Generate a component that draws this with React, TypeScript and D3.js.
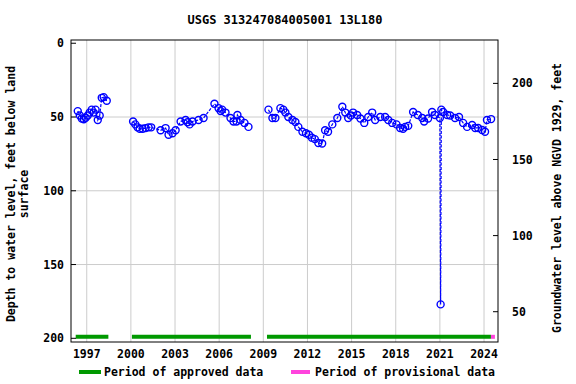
import React from "react";
import * as d3 from "d3";

// measurement dates (decimal years) and depth to water, feet below land surface
const dates = [
  1996.39, 1996.53, 1996.66, 1996.8, 1996.93, 1997.07, 1997.2, 1997.34, 1997.47, 1997.6, 1997.75, 1997.88, 1998.02, 1998.15, 1998.36,
  2000.15, 2000.3, 2000.45, 2000.6, 2000.8, 2001.0, 2001.2, 2001.38, 2002.02, 2002.36, 2002.56, 2002.83, 2003.04, 2003.38, 2003.72,
  2003.85, 2003.99, 2004.19, 2004.6, 2004.94, 2005.68, 2005.96, 2006.1, 2006.2, 2006.43, 2006.77, 2006.97, 2007.18, 2007.24, 2007.45,
  2007.72, 2007.99,
  2009.35, 2009.62, 2009.82, 2010.16, 2010.36, 2010.5, 2010.7, 2010.98, 2011.18, 2011.38, 2011.66, 2011.9, 2012.1, 2012.3, 2012.5,
  2012.74, 2013.0, 2013.2, 2013.4, 2013.69, 2014.03, 2014.37, 2014.57, 2014.77, 2014.95, 2015.1, 2015.38, 2015.6, 2015.86, 2016.13,
  2016.4, 2016.6, 2016.95, 2017.28, 2017.49, 2017.76, 2018.05, 2018.3, 2018.5, 2018.64, 2018.85, 2019.18, 2019.5, 2019.8, 2019.93,
  2020.2, 2020.47, 2020.67, 2021.0, 2021.05, 2021.1, 2021.22, 2021.5, 2021.7, 2022.03, 2022.3, 2022.58, 2022.85, 2023.19, 2023.4,
  2023.6, 2023.87, 2024.07, 2024.2, 2024.48,
];
const depths = [
  46, 49, 51, 51.5, 50.5, 49, 47, 45, 47, 45, 52, 49, 37, 36.5, 39,
  53, 55, 57, 58, 58, 57.5, 57, 57, 59, 57.5, 62, 61, 59, 53, 52,
  53.5, 55, 53, 52, 50.7, 41, 44, 46, 45, 47, 50.7, 53, 53, 48.6, 52,
  54, 56.7,
  45, 50.7, 50.7, 44, 45, 47, 50, 52, 53.4, 56.7, 60, 61, 62, 64, 65,
  67.6, 68, 59, 60, 55, 50.7, 43, 47, 50.7, 49, 47, 48.6, 51, 54, 50,
  47, 52, 50, 50, 52, 54, 55, 57.4, 58, 56.7, 56, 46.6, 48.6, 50.7, 53,
  51, 46.6, 48.6, 50.7, 177, 45, 46.6, 48.6, 49, 50.7, 50, 54, 56.7, 55.4, 57.4,
  57.4, 58.8, 60, 52, 51.4,
];

const approvedStart = [1996.25, 2000.07, 2009.25];
const approvedEnd = [1998.47, 2008.16, 2024.47];
const provisionalStart = [2024.47];
const provisionalEnd = [2024.74];

const yearTicks = [1997, 2000, 2003, 2006, 2009, 2012, 2015, 2018, 2021, 2024];
const depthTicks = [0, 50, 100, 150, 200];
const elevTicks = [50, 100, 150, 200];

const FONT = "'DejaVu Sans Mono', 'Liberation Mono', monospace";

export default function App() {
  const width = 576;
  const height = 384;
  const plot = { left: 71, right: 498, top: 40, bottom: 342 };

  const x = d3.scaleLinear().domain([1995.93, 2024.95]).range([plot.left, plot.right]);
  const y = d3.scaleLinear().domain([-2.2, 202.5]).range([plot.top, plot.bottom]);
  const yRight = d3.scaleLinear().domain([228.5, 30.1]).range([plot.top, plot.bottom]);

  const points = dates.map((d, i) => ({ date: d, depth: depths[i] }));

  // split into connected runs where gaps are under a year
  const runs: { date: number; depth: number }[][] = [];
  points.forEach((p, i) => {
    if (i === 0 || p.date - points[i - 1].date > 1) runs.push([]);
    runs[runs.length - 1].push(p);
  });

  const line = d3
    .line<{ date: number; depth: number }>()
    .x((d) => x(d.date))
    .y((d) => y(d.depth));

  const barY = y(200) - 1.5;

  return (
    <svg
      width={width}
      height={height}
      style={{ position: "fixed", top: 0, left: 0, background: "#fff" }}
      fontFamily={FONT}
      fontWeight="bold"
      fontSize={11.5}
    >
      <rect x={0} y={0} width={width} height={height} fill="#fff" />
      <text x={285} y={24} textAnchor="middle" fontSize={12}>
        USGS 313247084005001 13L180
      </text>

      {/* grid */}
      {yearTicks.map((t) => (
        <line key={"gx" + t} x1={x(t)} x2={x(t)} y1={plot.top} y2={plot.bottom} stroke="#cccccc" strokeWidth={1} />
      ))}
      {[50, 100, 150].map((t) => (
        <line key={"gy" + t} x1={plot.left} x2={plot.right} y1={y(t)} y2={y(t)} stroke="#cccccc" strokeWidth={1} />
      ))}

      {/* periods */}
      {approvedStart.map((s, i) => (
        <line key={"ap" + i} x1={x(s)} x2={x(approvedEnd[i])} y1={barY} y2={barY} stroke="#009900" strokeWidth={4} />
      ))}
      {provisionalStart.map((s, i) => (
        <line key={"pr" + i} x1={x(s)} x2={x(provisionalEnd[i])} y1={barY} y2={barY} stroke="#ff44dd" strokeWidth={4} />
      ))}

      {/* data */}
      {runs.map((r, i) => (
        <path key={"run" + i} d={line(r) || ""} fill="none" stroke="#0000ff" strokeWidth={1.2} strokeDasharray="3,1.5" />
      ))}
      {points.map((p, i) => (
        <circle key={"pt" + i} cx={x(p.date)} cy={y(p.depth)} r={3.5} fill="none" stroke="#0000ff" strokeWidth={1.4} />
      ))}

      {/* frame */}
      <rect
        x={plot.left}
        y={plot.top}
        width={plot.right - plot.left}
        height={plot.bottom - plot.top}
        fill="none"
        stroke="#000"
        strokeWidth={1}
      />

      {/* left axis */}
      {depthTicks.map((t) => (
        <g key={"ly" + t}>
          <line x1={plot.left} x2={plot.left + 5} y1={y(t)} y2={y(t)} stroke="#000" />
          <text x={64} y={y(t)} dy="0.35em" textAnchor="end">
            {t}
          </text>
        </g>
      ))}
      {/* right axis */}
      {elevTicks.map((t) => (
        <g key={"ry" + t}>
          <line x1={plot.right - 5} x2={plot.right} y1={yRight(t)} y2={yRight(t)} stroke="#000" />
          <text x={512} y={yRight(t)} dy="0.35em" textAnchor="start">
            {t}
          </text>
        </g>
      ))}
      {/* bottom axis */}
      {yearTicks.map((t) => (
        <text key={"lx" + t} x={x(t)} y={358} textAnchor="middle">
          {t}
        </text>
      ))}

      {/* axis titles */}
      <text transform="translate(15,194) rotate(-90)" textAnchor="middle">
        Depth to water level, feet below land
      </text>
      <text transform="translate(28,194) rotate(-90)" textAnchor="middle">
        surface
      </text>
      <text transform="translate(561,198) rotate(-90)" textAnchor="middle">
        Groundwater level above NGVD 1929, feet
      </text>

      {/* legend */}
      <line x1={79} x2={101} y1={372} y2={372} stroke="#009900" strokeWidth={4} />
      <text x={104} y={376}>
        Period of approved data
      </text>
      <line x1={291} x2={310} y1={372} y2={372} stroke="#ff44dd" strokeWidth={4} />
      <text x={315} y={376}>
        Period of provisional data
      </text>
    </svg>
  );
}
